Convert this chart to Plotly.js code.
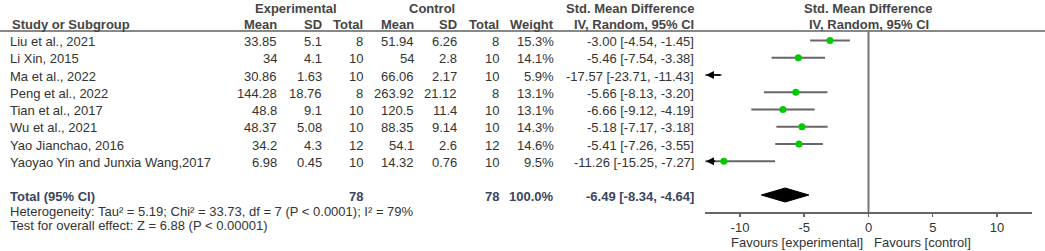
<!DOCTYPE html>
<html>
<head>
<meta charset="utf-8">
<script src="https://cdn.plot.ly/plotly-3.0.1.min.js"></script>
<style>html,body{margin:0;padding:0;background:#fff;}#chart{width:1045px;height:251px;}</style>
</head>
<body>
<div id="chart"></div>
<script>
// ---- data ----
const studies = ["Liu et al., 2021","Li Xin, 2015","Ma et al., 2022","Peng et al., 2022","Tian et al., 2017","Wu et al., 2021","Yao Jianchao, 2016","Yaoyao Yin and Junxia Wang,2017"];
const expMean = [33.85, 34, 30.86, 144.28, 48.8, 48.37, 34.2, 6.98];
const expSD = [5.1, 4.1, 1.63, 18.76, 9.1, 5.08, 4.3, 0.45];
const expN = [8, 10, 10, 8, 10, 10, 12, 10];
const ctrlMean = [51.94, 54, 66.06, 263.92, 120.5, 88.35, 54.1, 14.32];
const ctrlSD = [6.26, 2.8, 2.17, 21.12, 11.4, 9.14, 2.6, 0.76];
const ctrlN = [8, 10, 10, 8, 10, 10, 12, 10];
const weights = [15.3, 14.1, 5.9, 13.1, 13.1, 14.3, 14.6, 9.5];
const smd = [-3.00, -5.46, -17.57, -5.66, -6.66, -5.18, -5.41, -11.26];
const ciLow = [-4.54, -7.54, -23.71, -8.13, -9.12, -7.17, -7.26, -15.25];
const ciHigh = [-1.45, -3.38, -11.43, -3.20, -4.19, -3.18, -3.55, -7.27];
const totalExpN = 78, totalCtrlN = 78, totalWeight = 100.0;
const pooled = -6.49, pooledLow = -8.34, pooledHigh = -4.64;
const heterogeneityText = "Heterogeneity: Tau² = 5.19; Chi² = 33.73, df = 7 (P < 0.0001); I² = 79%";
const overallText = "Test for overall effect: Z = 6.88 (P < 0.00001)";
const tickVals = [-10, -5, 0, 5, 10];
const tickText = ["-10", "-5", "0", "5", "10"];

// ---- layout helpers (pixel geometry) ----
const W = 1045, H = 251;
const XMIN = -12.7, XMAX = 12.7;
const rowY = i => 40.5 + 17.25 * i;
const totalY = 196.5, hetY = 211, testY = 225;
const axisY = 212, ruleY = 31, favY = 242.5;
const FONT = "Liberation Sans, Arial, sans-serif";
const TXT = "#333333", HDR = "#454545", TOT = "#3a4560";
const px = v => v / W;

const ann = [];
function t(x, y, text, anchor, opts) {
  opts = opts || {};
  ann.push({xref: 'paper', yref: 'y', x: px(x), y: y, text: text, showarrow: false,
    xanchor: anchor, yanchor: 'middle', borderpad: 0, borderwidth: 0,
    font: {family: FONT, size: 13, color: opts.color || TXT}});
}
const B = s => '<b>' + s + '</b>';

// headers
t(296, 8, B('Experimental'), 'center', {color: HDR});
t(432, 8, B('Control'), 'center', {color: HDR});
t(630, 8, B('Std. Mean Difference'), 'center', {color: HDR});
t(868.5, 8, B('Std. Mean Difference'), 'center', {color: HDR});
t(12, 24, B('Study or Subgroup'), 'left', {color: HDR});
t(277, 24, B('Mean'), 'right', {color: HDR});
t(322, 24, B('SD'), 'right', {color: HDR});
t(363, 24, B('Total'), 'right', {color: HDR});
t(414, 24, B('Mean'), 'right', {color: HDR});
t(457, 24, B('SD'), 'right', {color: HDR});
t(499, 24, B('Total'), 'right', {color: HDR});
t(554, 24, B('Weight'), 'right', {color: HDR});
t(694, 24, B('IV, Random, 95% CI'), 'right', {color: HDR});
t(868.5, 24, B('IV, Random, 95% CI'), 'center', {color: HDR});

// study rows
studies.forEach((s, i) => {
  const y = rowY(i) + 1;
  t(10, y, s, 'left');
  t(277, y, String(expMean[i]), 'right');
  t(322, y, String(expSD[i]), 'right');
  t(363, y, String(expN[i]), 'right');
  t(414, y, String(ctrlMean[i]), 'right');
  t(457, y, String(ctrlSD[i]), 'right');
  t(499, y, String(ctrlN[i]), 'right');
  t(554, y, weights[i].toFixed(1) + '%', 'right');
  t(694, y, smd[i].toFixed(2) + ' [' + ciLow[i].toFixed(2) + ', ' + ciHigh[i].toFixed(2) + ']', 'right');
});

// total row
t(10, totalY, B('Total (95% CI)'), 'left', {color: TOT});
t(363, totalY, B(String(totalExpN)), 'right', {color: TOT});
t(499, totalY, B(String(totalCtrlN)), 'right', {color: TOT});
t(554, totalY, B(totalWeight.toFixed(1) + '%'), 'right', {color: TOT});
t(694, totalY, B(pooled.toFixed(2) + ' [' + pooledLow.toFixed(2) + ', ' + pooledHigh.toFixed(2) + ']'), 'right', {color: TOT});
t(10, hetY, heterogeneityText, 'left');
t(10, testY, overallText, 'left');

// favours labels (data x)
ann.push({xref: 'x', yref: 'y', x: -0.45, y: favY, text: 'Favours [experimental]', showarrow: false,
  xanchor: 'right', yanchor: 'middle', borderpad: 0, borderwidth: 0, font: {family: FONT, size: 13, color: TXT}});
ann.push({xref: 'x', yref: 'y', x: 0.45, y: favY, text: 'Favours [control]', showarrow: false,
  xanchor: 'left', yanchor: 'middle', borderpad: 0, borderwidth: 0, font: {family: FONT, size: 13, color: TXT}});

// truncation arrows for CIs going off the left of the scale
studies.forEach((s, i) => {
  if (ciLow[i] < XMIN) {
    const tail = smd[i] < XMIN ? ciHigh[i] : XMIN + 0.9;
    ann.push({xref: 'x', yref: 'y', axref: 'x', ayref: 'y', x: XMIN + 0.05, y: rowY(i), ax: tail, ay: rowY(i),
      text: '', showarrow: true, arrowhead: 2, arrowsize: 1, arrowwidth: 1.6, arrowcolor: '#000', standoff: 0, startstandoff: 0});
  }
});

// ---- traces ----
const ciX = [], ciY = [];
studies.forEach((s, i) => { ciX.push(ciLow[i], ciHigh[i], null); ciY.push(rowY(i), rowY(i), null); });
const ciTrace = {x: ciX, y: ciY, mode: 'lines', type: 'scatter', line: {color: '#666666', width: 2},
  hoverinfo: 'skip', showlegend: false};
const ptTrace = {x: smd, y: studies.map((s, i) => rowY(i)), mode: 'markers', type: 'scatter',
  marker: {color: '#00cc00', size: 7, symbol: 'circle', line: {width: 0}}, showlegend: false, cliponaxis: true};
const dh = 7;
const dy = totalY - 1.5;
const diamond = {x: [pooledLow, pooled, pooledHigh, pooled, pooledLow], y: [dy, dy - dh, dy, dy + dh, dy],
  mode: 'lines', type: 'scatter', fill: 'toself', fillcolor: '#000', line: {color: '#000', width: 1}, showlegend: false};

const layout = {
  width: W, height: H, margin: {l: 0, r: 0, t: 0, b: 0},
  paper_bgcolor: '#fff', plot_bgcolor: 'rgba(0,0,0,0)', showlegend: false,
  xaxis: {domain: [px(868.5 + XMIN * 12.85), px(868.5 + XMAX * 12.85)], range: [XMIN, XMAX],
    anchor: 'free', position: 1 - axisY / H, showline: true, linecolor: '#666', linewidth: 1.5,
    ticks: 'outside', ticklen: 3, tickwidth: 1.5, tickcolor: '#666', tickvals: tickVals, ticktext: tickText,
    showgrid: false, zeroline: false, tickfont: {family: FONT, size: 13, color: TXT}, fixedrange: true},
  yaxis: {domain: [0, 1], range: [H, 0], visible: false, showgrid: false, zeroline: false, fixedrange: true},
  shapes: [
    {type: 'line', xref: 'paper', yref: 'y', x0: 0, x1: 1, y0: ruleY, y1: ruleY, line: {color: '#888', width: 2}},
    {type: 'line', xref: 'x', yref: 'y', x0: 0, x1: 0, y0: ruleY, y1: axisY, line: {color: '#777', width: 2}}
  ],
  annotations: ann
};

Plotly.newPlot('chart', [ciTrace, ptTrace, diamond], layout, {staticPlot: true, displayModeBar: false});
</script>
</body>
</html>
